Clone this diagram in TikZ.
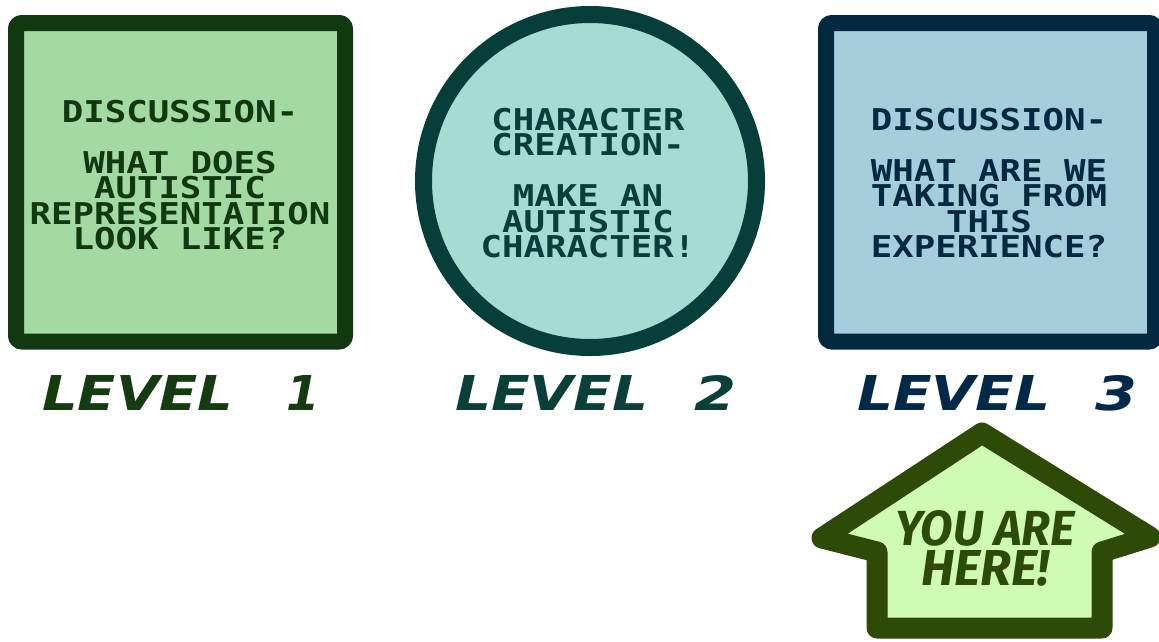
\documentclass[tikz,border=0pt]{standalone}
\usepackage{fontspec}
\usepackage{graphicx}
% blocky monospace for the panel texts, widened a little
\newfontfamily\pixfont[FakeStretch=1.19]{DejaVu Sans Mono}
% heavy slanted face for the level captions
\newfontfamily\lvlfont[ItalicFont={DejaVu Sans Oblique},BoldItalicFont={DejaVu Sans Bold Oblique}]{DejaVu Sans}
\newfontfamily\herefont{Fira Sans}

\definecolor{oneEdge}{RGB}{18,56,18}
\definecolor{oneFill}{RGB}{163,218,163}
\definecolor{twoEdge}{RGB}{6,62,58}
\definecolor{twoFill}{RGB}{164,220,212}
\definecolor{threeEdge}{RGB}{2,41,64}
\definecolor{threeFill}{RGB}{167,204,220}
\definecolor{oneCap}{RGB}{20,60,16}
\definecolor{twoCap}{RGB}{10,63,58}
\definecolor{threeCap}{RGB}{3,41,74}
\definecolor{arrowEdge}{RGB}{46,74,7}
\definecolor{arrowFill}{RGB}{207,251,178}

\begin{document}
\begin{tikzpicture}[x=1pt,y=-1pt,
  panel/.style={line width=16pt,rounded corners=6pt},
  pix/.style={align=center,inner sep=0pt,anchor=north,
    font=\pixfont\bfseries\fontsize{30}{25.5}\selectfont},
  lvlword/.style={inner sep=0pt,anchor=base west,font=\lvlfont\bfseries\itshape},
  lvlnum/.style={inner sep=0pt,anchor=base,font=\lvlfont\bfseries\itshape}]
\useasboundingbox (0,0) rectangle (1159,641);
\fill[white] (0,0) rectangle (1159,641);

% level 1 panel
\draw[panel,draw=oneEdge,fill=oneFill] (16,23) rectangle (345,341.5);
\node[pix,text=oneEdge] (q1) at (180,100)
  {DISCUSSION-\\[25.5pt]WHAT DOES~\\AUTISTIC~\\REPRESENTATION\\LOOK LIKE?~};

% level 2 disc
\draw[line width=17pt,draw=twoEdge,fill=twoFill] (590,181) circle[radius=166.5pt];
\node[pix,text=twoEdge] (q2) at (588,108)
  {CHARACTER\\CREATION-\\[25.5pt]MAKE AN~\\AUTISTIC\\CHARACTER!};

% level 3 panel
\draw[panel,draw=threeEdge,fill=threeFill] (826,23) rectangle (1155,341.5);
\node[pix,text=threeEdge] (q3) at (989,108)
  {DISCUSSION-\\[25.5pt]WHAT ARE WE\\TAKING FROM\\THIS~\\EXPERIENCE?~};

% captions
\node[lvlword,text=oneCap] (lv1) at (42,410) {\resizebox{191pt}{35pt}{LEVEL}};
\node[lvlnum,text=oneCap] (n1) at (303,410) {\resizebox{!}{35pt}{1}};
\node[lvlword,text=twoCap] (lv2) at (455,410) {\resizebox{193pt}{35pt}{LEVEL}};
\node[lvlnum,text=twoCap] (n2) at (715,410) {\resizebox{42pt}{35pt}{2}};
\node[lvlword,text=threeCap] (lv3) at (857,410) {\resizebox{193pt}{35pt}{LEVEL}};
\node[lvlnum,text=threeCap] (n3) at (1116,410) {\resizebox{42pt}{35pt}{3}};

% "you are here" arrow
\draw[line width=21pt,line join=round,draw=arrowEdge,fill=arrowFill]
  (982,433) -- (822,538) -- (877,552) -- (877,628) -- (1102,628)
  -- (1102,552) -- (1150,537) -- cycle;
\node[inner sep=0pt,anchor=north,align=center,text=arrowEdge,
  font=\herefont\bfseries\itshape\fontsize{30}{40}\selectfont] (here) at (985,510)
  {\resizebox{180pt}{35pt}{YOU ARE}\\\resizebox{128pt}{35pt}{HERE!}};
\end{tikzpicture}
\end{document}
